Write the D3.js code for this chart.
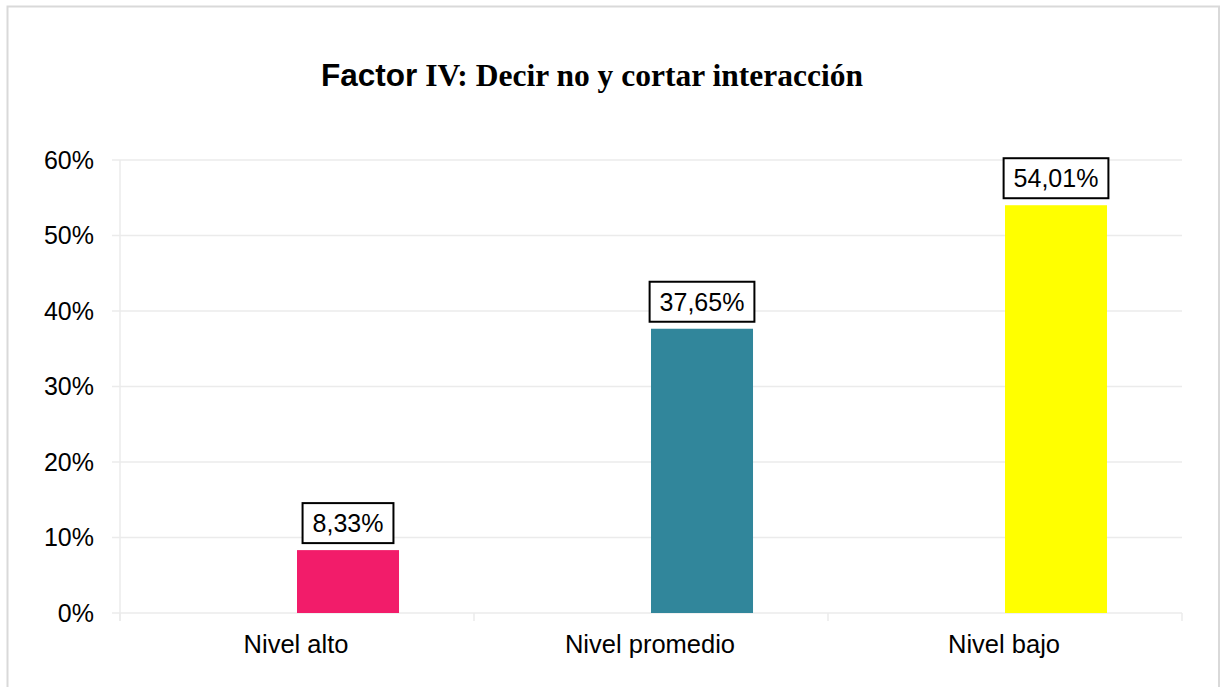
<!DOCTYPE html>
<html>
<head>
<meta charset="utf-8">
<script src="https://cdn.jsdelivr.net/npm/d3@7"></script>
<style>
  html, body { margin: 0; padding: 0; background: #fff; }
  svg { display: block; }
</style>
</head>
<body>
<svg id="chart" width="1227" height="687"></svg>
<script>
const categories = ["Nivel alto", "Nivel promedio", "Nivel bajo"];
const values = [0.0833, 0.3765, 0.5401];
const valueLabels = ["8,33%", "37,65%", "54,01%"];
const barColors = ["#F21C6A", "#31869B", "#FFFF00"];
const yTicks = [0, 0.1, 0.2, 0.3, 0.4, 0.5, 0.6];
const seriesSlots = ["vacío", "porcentaje"];

const svg = d3.select("#chart");
const W = 1227, H = 687;
const margin = { left: 120, right: 45, top: 160, bottom: 74 };
const plotRight = W - margin.right;  // 1182
const plotBottom = H - margin.bottom; // 613

// outer border
svg.append("rect")
  .attr("x", 7.5).attr("y", 6.5)
  .attr("width", 1219 - 7.5).attr("height", 700)
  .attr("fill", "#fff").attr("stroke", "#d9d9d9").attr("stroke-width", 2);

// title
const title = svg.append("text")
  .attr("x", 592).attr("y", 86)
  .attr("text-anchor", "middle")
  .attr("font-weight", "bold")
  .attr("font-size", 31.5)
  .attr("fill", "#000");
title.append("tspan").attr("font-family", "Liberation Sans, Arial, sans-serif").text("Factor");
title.append("tspan").attr("font-family", "Liberation Serif, 'Times New Roman', serif").text(" IV: Decir no y cortar interacción");

const x = d3.scaleBand().domain(categories).range([margin.left, plotRight]).padding(0);
const xs = d3.scaleBand().domain(seriesSlots).range([0, x.bandwidth()]).paddingInner(0).paddingOuter(0.735);
const y = d3.scaleLinear().domain([0, 0.6]).range([plotBottom, margin.top]);

// gridlines
svg.append("g").selectAll("line").data(yTicks).join("line")
  .attr("x1", margin.left - 8).attr("x2", plotRight)
  .attr("y1", d => y(d)).attr("y2", d => y(d))
  .attr("stroke", "#ebebeb").attr("stroke-width", 1.5);

// y axis line
svg.append("line")
  .attr("x1", margin.left).attr("x2", margin.left)
  .attr("y1", y(0.6)).attr("y2", plotBottom + 8)
  .attr("stroke", "#ebebeb").attr("stroke-width", 1.5);

// x category ticks
const xTickPos = categories.map(c => x(c)).concat([plotRight]);
svg.append("g").selectAll("line").data(xTickPos).join("line")
  .attr("x1", d => d).attr("x2", d => d)
  .attr("y1", plotBottom).attr("y2", plotBottom + 8)
  .attr("stroke", "#ebebeb").attr("stroke-width", 1.5);

// y tick labels
svg.append("g").selectAll("text").data(yTicks).join("text")
  .attr("x", 94).attr("y", d => y(d))
  .attr("dy", "0.35em")
  .attr("text-anchor", "end")
  .attr("font-family", "Liberation Sans, Arial, sans-serif")
  .attr("font-size", 25)
  .attr("fill", "#000")
  .text(d => Math.round(d * 100) + "%");

// x labels
svg.append("g").selectAll("text").data(categories).join("text")
  .attr("x", d => x(d) + x.bandwidth() / 2 - 1)
  .attr("y", 652.5)
  .attr("text-anchor", "middle")
  .attr("font-family", "Liberation Sans, Arial, sans-serif")
  .attr("font-size", 25.5)
  .attr("fill", "#000")
  .text(d => d);

// bars
const data = categories.map((c, i) => ({ c, v: values[i], label: valueLabels[i], color: barColors[i] }));
svg.append("g").selectAll("rect").data(data).join("rect")
  .attr("x", d => x(d.c) + xs("porcentaje"))
  .attr("width", xs.bandwidth())
  .attr("y", d => y(d.v))
  .attr("height", d => y(0) - y(d.v))
  .attr("fill", d => d.color);

// data labels with boxes
const lg = svg.append("g").selectAll("g").data(data).join("g");
lg.each(function(d) {
  const g = d3.select(this);
  const cx = x(d.c) + xs("porcentaje") + xs.bandwidth() / 2;
  const boxBottom = y(d.v) - 7;
  const t = g.append("text")
    .attr("x", cx).attr("y", boxBottom - 11)
    .attr("text-anchor", "middle")
    .attr("font-family", "Liberation Sans, Arial, sans-serif")
    .attr("font-size", 25)
    .attr("fill", "#000")
    .text(d.label);
  const bb = t.node().getBBox();
  const w = bb.width + 20;
  g.insert("rect", "text")
    .attr("x", cx - w / 2).attr("y", boxBottom - 40)
    .attr("width", w).attr("height", 40)
    .attr("fill", "#fff").attr("stroke", "#000").attr("stroke-width", 2);
});
</script>
</body>
</html>
